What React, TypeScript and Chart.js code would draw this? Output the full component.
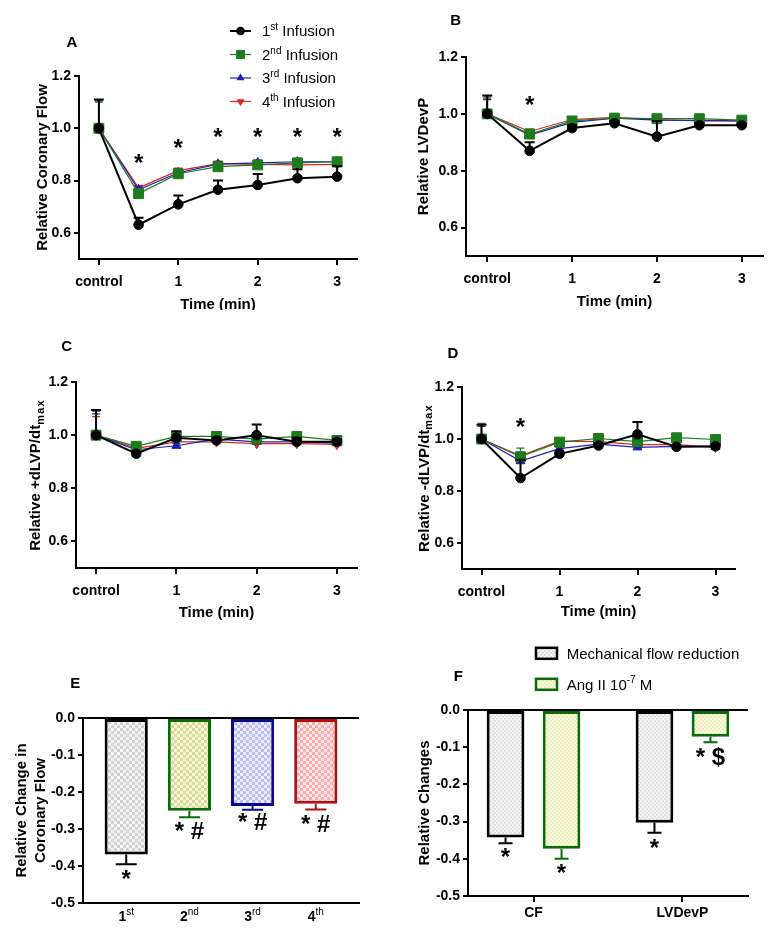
import React, { useEffect, useRef } from 'react';
import { Chart, registerables } from 'chart.js';

Chart.register(...registerables);

const FONT = '"Liberation Sans", Arial, Helvetica, sans-serif';

// ================= DATA =================
const timePoints = [0, 0.5, 1, 1.5, 2, 2.5, 3];
const timeTickValues = [0, 1, 2, 3];
const timeTickLabels = ['control', '1', '2', '3'];
const lineYTicks = [0.6, 0.8, 1.0, 1.2];
const infusionOrdinals = [['1', 'st'], ['2', 'nd'], ['3', 'rd'], ['4', 'th']];

// Panel A – relative coronary flow (values, upper error ends)
const cfInf1 = [1.0, 0.631, 0.709, 0.765, 0.783, 0.809, 0.815];
const cfInf1Err = [1.11, 0.658, 0.743, 0.8, 0.825, 0.843, 0.855];
const cfInf2 = [1.0, 0.75, 0.826, 0.853, 0.86, 0.868, 0.872];
const cfInf2Err = [1.1, 0.76, 0.835, 0.862, 0.87, 0.88, 0.88];
const cfInf3 = [1.0, 0.765, 0.83, 0.863, 0.868, 0.872, 0.872];
const cfInf3Err = [1.105, 0.775, 0.84, 0.872, 0.878, 0.882, 0.88];
const cfInf4 = [1.0, 0.772, 0.838, 0.865, 0.862, 0.86, 0.862];
const cfInf4Err = [1.108, 0.78, 0.845, 0.872, 0.87, 0.868, 0.87];
const starsAx = [0.5, 1, 1.5, 2, 2.5, 3];
const starsAy = [0.885, 0.943, 0.983, 0.983, 0.983, 0.983];

// Panel B – relative LVDevP
const lvInf1 = [1.0, 0.87, 0.95, 0.967, 0.92, 0.96, 0.96];
const lvInf1Err = [1.065, 0.9, 0.96, 0.975, 0.975, 0.968, 0.965];
const lvInf2 = [1.0, 0.929, 0.975, 0.985, 0.983, 0.983, 0.978];
const lvInf2Err = [1.055, 0.94, 0.985, 0.995, 0.99, 0.99, 0.985];
const lvInf3 = [1.0, 0.925, 0.97, 0.985, 0.978, 0.977, 0.975];
const lvInf3Err = [1.05, 0.935, 0.98, 0.993, 0.985, 0.983, 0.98];
const lvInf4 = [1.0, 0.938, 0.98, 0.988, 0.98, 0.975, 0.975];
const lvInf4Err = [1.06, 0.945, 0.985, 0.995, 0.985, 0.98, 0.98];
const starsBx = [0.5];
const starsBy = [1.048];

// Panel C – relative +dLVP/dt max
const pdInf1 = [1.0, 0.93, 0.99, 0.98, 1.0, 0.975, 0.975];
const pdInf1Err = [1.095, 0.935, 1.015, 0.99, 1.04, 0.99, 0.985];
const pdInf2 = [1.0, 0.958, 0.995, 0.995, 0.985, 0.995, 0.98];
const pdInf2Err = [1.09, 0.965, 1.0, 1.005, 0.995, 1.003, 0.985];
const pdInf3 = [1.0, 0.945, 0.96, 0.985, 0.975, 0.975, 0.97];
const pdInf3Err = [1.08, 0.95, 0.968, 0.99, 0.98, 0.98, 0.975];
const pdInf4 = [1.0, 0.95, 0.975, 0.975, 0.968, 0.968, 0.965];
const pdInf4Err = [1.07, 0.955, 0.98, 0.98, 0.972, 0.972, 0.97];

// Panel D – relative -dLVP/dt max
const ndInf1 = [1.0, 0.85, 0.943, 0.975, 1.018, 0.97, 0.972];
const ndInf1Err = [1.055, 0.92, 0.95, 0.985, 1.065, 0.975, 0.98];
const ndInf2 = [1.0, 0.932, 0.988, 1.002, 0.99, 1.005, 0.998];
const ndInf2Err = [1.06, 0.965, 0.995, 1.01, 0.998, 1.012, 1.015];
const ndInf3 = [1.0, 0.915, 0.963, 0.98, 0.968, 0.972, 0.97];
const ndInf3Err = [1.05, 0.925, 0.97, 0.985, 0.975, 0.978, 0.975];
const ndInf4 = [1.0, 0.935, 0.992, 0.99, 0.978, 0.978, 0.968];
const ndInf4Err = [1.048, 0.945, 1.0, 0.995, 0.985, 0.985, 0.975];
const starsDx = [0.5];
const starsDy = [1.064];

// Panel E – relative change in coronary flow per infusion
const infusionPos = [0, 1, 2, 3];
const cfChange = [-0.369, -0.251, -0.238, -0.232];
const cfChangeErr = [-0.395, -0.268, -0.248, -0.247];
const cfChangeNotes = ['*', '* #', '* #', '* #'];
const cfChangeNoteY = [-0.4225, -0.3035, -0.281, -0.285];
const barYTicks = [-0.5, -0.4, -0.3, -0.2, -0.1, 0];

// Panel F – mechanical vs Ang II
const fPos = [0, 1];
const fLabels = ['CF', 'LVDevP'];
const mechVals = [-0.343, -0.303];
const mechErr = [-0.358, -0.33];
const mechNotes = ['*', '*'];
const mechNoteY = [-0.383, -0.36];
const angVals = [-0.373, -0.072];
const angErr = [-0.4, -0.087];
const angNotes = ['*', '* $'];
const angNoteY = [-0.425, -0.125];

// ================= STYLES =================
const SERIES_STYLE = [
  { color: '#000000', marker: 'circle', radius: 4.8, rot: 0, lw: 2, cap: 10, ew: 2 },
  { color: '#1e7b1e', marker: 'rect', radius: 7, rot: 0, lw: 1.2, cap: 8, ew: 1.2 },
  { color: '#1f1fb4', marker: 'triangle', radius: 5.2, rot: 0, lw: 1.2, cap: 8, ew: 1.2 },
  { color: '#d62828', marker: 'triangle', radius: 5.2, rot: 180, lw: 1.2, cap: 8, ew: 1.2 },
];

const NOTE_FONT_SIZE = 24;

type Seg = { t: string; s?: 'sup' | 'sub' };

function fontStr(size: number, weight: string) {
  return `${weight} ${size}px ${FONT}`;
}

function drawRich(ctx: any, segs: Seg[], x: number, y: number, opt: any) {
  const size = opt.size;
  const weight = opt.weight || 'bold';
  const small = opt.small || Math.round(size * 0.7);
  const smallWeight = opt.smallWeight || weight;
  const parts = segs.map((sg) => {
    const f = sg.s ? fontStr(small, smallWeight) : fontStr(size, weight);
    ctx.font = f;
    const ls = sg.s === 'sub' && opt.subSpacing ? opt.subSpacing : 0;
    const w = ctx.measureText(sg.t).width + ls * sg.t.length;
    return { sg, f, w, ls };
  });
  const total = parts.reduce((a, p) => a + p.w, 0);
  let cx = opt.align === 'left' ? x : x - total / 2;
  const base = y + size * 0.358;
  ctx.fillStyle = opt.color || '#000';
  ctx.textAlign = 'left';
  ctx.textBaseline = 'alphabetic';
  for (const p of parts) {
    ctx.font = p.f;
    let by = base;
    if (p.sg.s === 'sup') by = base - size * 0.42;
    if (p.sg.s === 'sub') by = base + size * 0.25;
    if (p.ls) {
      let xx = cx;
      for (const ch of p.sg.t) {
        ctx.fillText(ch, xx, by);
        xx += ctx.measureText(ch).width + p.ls;
      }
    } else {
      ctx.fillText(p.sg.t, cx, by);
    }
    cx += p.w;
  }
}

function drawGlyphCentered(ctx: any, text: string, x: number, y: number, font: string) {
  ctx.font = font;
  ctx.fillStyle = '#000';
  ctx.textAlign = 'center';
  ctx.textBaseline = 'alphabetic';
  const m = ctx.measureText(text);
  const by = y + (m.actualBoundingBoxAscent - m.actualBoundingBoxDescent) / 2;
  ctx.fillText(text, x, by);
}

function drawMarker(ctx: any, st: any, x: number, y: number, scale: number) {
  const r = st.radius * scale;
  ctx.save();
  ctx.fillStyle = st.color;
  ctx.beginPath();
  if (st.marker === 'circle') {
    ctx.arc(x, y, r, 0, Math.PI * 2);
  } else if (st.marker === 'rect') {
    const s = Math.SQRT1_2 * r;
    ctx.rect(x - s, y - s, 2 * s, 2 * s);
  } else {
    let rad = (st.rot * Math.PI) / 180;
    ctx.moveTo(x + Math.sin(rad) * r, y - Math.cos(rad) * r);
    rad += (2 * Math.PI) / 3;
    ctx.lineTo(x + Math.sin(rad) * r, y - Math.cos(rad) * r);
    rad += (2 * Math.PI) / 3;
    ctx.lineTo(x + Math.sin(rad) * r, y - Math.cos(rad) * r);
    ctx.closePath();
  }
  ctx.fill();
  ctx.restore();
}

function checker(ctx: any, c1: string, c2: string, cell: number) {
  const cv = document.createElement('canvas');
  cv.width = cell * 2;
  cv.height = cell * 2;
  const g = cv.getContext('2d') as CanvasRenderingContext2D;
  g.fillStyle = c2;
  g.fillRect(0, 0, cell * 2, cell * 2);
  g.fillStyle = c1;
  g.fillRect(0, 0, cell, cell);
  g.fillRect(cell, cell, cell, cell);
  return ctx.createPattern(cv, 'repeat');
}

function fixY(width: number) {
  return (s: any) => {
    s.width = width;
    s.paddingTop = 0;
    s.paddingBottom = 0;
    s.paddingLeft = 0;
    s.paddingRight = 0;
  };
}
function fixX(height: number) {
  return (s: any) => {
    s.height = height;
    s.paddingTop = 0;
    s.paddingBottom = 0;
    s.paddingLeft = 0;
    s.paddingRight = 0;
  };
}

function decorPlugin(d: any) {
  return {
    id: 'decor',
    beforeDatasetDraw(chart: any, args: any) {
      const e = d.errors && d.errors[args.index];
      if (!e) return;
      const ctx = chart.ctx;
      const ys = chart.scales.y;
      ctx.save();
      ctx.lineWidth = e.width;
      args.meta.data.forEach((el: any, i: number) => {
        const v = e.vals[i];
        if (v == null) return;
        ctx.strokeStyle = Array.isArray(e.color) ? e.color[i] : e.color;
        const x = el.x;
        const y0 = el.y;
        const y1 = ys.getPixelForValue(v);
        ctx.beginPath();
        ctx.moveTo(x, y0);
        ctx.lineTo(x, y1);
        ctx.moveTo(x - e.cap / 2, y1);
        ctx.lineTo(x + e.cap / 2, y1);
        ctx.stroke();
      });
      ctx.restore();
    },
    afterDraw(chart: any) {
      const ctx = chart.ctx;
      const area = chart.chartArea;
      const xs = chart.scales.x;
      const ys = chart.scales.y;
      ctx.save();
      // panel letter
      drawRich(ctx, [{ t: d.letter }], d.letterX, d.letterY, { size: 15, weight: 'bold' });
      // y title(s)
      const cy = (area.top + area.bottom) / 2;
      d.yTitle.forEach((segs: Seg[], i: number) => {
        ctx.save();
        ctx.translate(d.yTitleX[i], cy);
        ctx.rotate(-Math.PI / 2);
        drawRich(ctx, segs, 0, 0, { size: 15, weight: 'bold', small: 11, subSpacing: 1.2 });
        ctx.restore();
      });
      // x title
      if (d.xTitle) {
        drawRich(ctx, [{ t: d.xTitle }], (area.left + area.right) / 2, area.bottom + d.xTitleDy, {
          size: 15,
          weight: 'bold',
        });
      }
      // rich x tick labels
      if (d.xRich) {
        d.xRich.values.forEach((v: number, i: number) => {
          drawRich(ctx, d.xRich.segs[i], xs.getPixelForValue(v), area.bottom + d.xRich.dy, {
            size: 14,
            weight: 'bold',
            small: 10,
            smallWeight: 'normal',
          });
        });
      }
      // stars at data positions
      if (d.stars) {
        d.stars.x.forEach((xv: number, i: number) => {
          drawGlyphCentered(
            ctx,
            '*',
            xs.getPixelForValue(xv),
            ys.getPixelForValue(d.stars.y[i]),
            fontStr(NOTE_FONT_SIZE, 'bold')
          );
        });
      }
      // notes under bars
      if (d.notes) {
        d.notes.forEach((n: any, di: number) => {
          if (!n) return;
          const meta = chart.getDatasetMeta(di);
          meta.data.forEach((el: any, i: number) => {
            drawGlyphCentered(ctx, n.text[i], el.x, ys.getPixelForValue(n.y[i]), fontStr(NOTE_FONT_SIZE, 'bold'));
          });
        });
      }
      if (d.legend) d.legend(ctx, chart);
      ctx.restore();
    },
  };
}

function baseOptions(box: any, area: any) {
  return {
    responsive: false,
    animation: false,
    devicePixelRatio: 1,
    events: [],
    layout: {
      padding: { left: 0, top: area.t - box.y, right: box.x + box.w - area.r, bottom: 0 },
    },
    plugins: { legend: { display: false }, tooltip: { enabled: false } },
  };
}

const tickFont = { size: 14, weight: 'bold', family: FONT };

function buildLine(canvas: HTMLCanvasElement, p: any) {
  const { box, area } = p;
  const yW = area.l - box.x;
  const xH = box.y + box.h - area.b;
  const datasets = p.series.map((vals: number[], i: number) => {
    const st = SERIES_STYLE[i];
    return {
      data: vals.map((v, j) => ({ x: timePoints[j], y: v })),
      borderColor: st.color,
      backgroundColor: st.color,
      borderWidth: st.lw,
      pointStyle: st.marker,
      pointRadius: st.radius,
      pointHoverRadius: st.radius,
      pointRotation: st.rot,
      pointBorderWidth: 1,
      pointBackgroundColor: st.color,
      pointBorderColor: st.color,
      tension: 0,
      fill: false,
    };
  });
  const errors = p.errs.map((vals: number[], i: number) => ({
    vals,
    color: SERIES_STYLE[i].color,
    width: SERIES_STYLE[i].ew,
    cap: SERIES_STYLE[i].cap,
  }));
  return new Chart(canvas, {
    type: 'line',
    data: { datasets },
    options: {
      ...baseOptions(box, area),
      scales: {
        x: {
          type: 'linear',
          min: -0.25,
          max: 3.25,
          afterBuildTicks: (s: any) => {
            s.ticks = timeTickValues.map((v) => ({ value: v }));
          },
          ticks: {
            callback: (v: any) => timeTickLabels[timeTickValues.indexOf(Number(v))] ?? '',
            font: tickFont,
            color: '#000',
            padding: 9,
            maxRotation: 0,
            autoSkip: false,
          },
          grid: { drawOnChartArea: false, color: '#000', lineWidth: 2, tickLength: 6 },
          border: { color: '#000', width: 2 },
          afterFit: fixX(xH),
        },
        y: {
          type: 'linear',
          min: 0.5,
          max: 1.2,
          afterBuildTicks: (s: any) => {
            s.ticks = lineYTicks.map((v) => ({ value: v }));
          },
          ticks: { callback: (v: any) => Number(v).toFixed(1), font: tickFont, color: '#000', padding: 3 },
          grid: { drawOnChartArea: false, color: '#000', lineWidth: 2, tickLength: 5 },
          border: { color: '#000', width: 2 },
          afterFit: fixY(yW),
        },
      },
    } as any,
    plugins: [
      decorPlugin({
        letter: p.letter,
        letterX: p.letterX,
        letterY: p.letterY,
        yTitle: p.yTitle,
        yTitleX: p.yTitleX,
        xTitle: 'Time (min)',
        xTitleDy: p.xTitleDy,
        errors,
        stars: p.stars,
        legend: p.legend,
      }) as any,
    ],
  });
}

function barYScale(yW: number) {
  return {
    type: 'linear',
    min: -0.5,
    max: 0,
    afterBuildTicks: (s: any) => {
      s.ticks = barYTicks.map((v) => ({ value: v }));
    },
    ticks: { callback: (v: any) => Number(v).toFixed(1), font: tickFont, color: '#000', padding: 3 },
    grid: {
      drawOnChartArea: true,
      color: (c: any) => (c.tick && Math.abs(c.tick.value) < 1e-9 ? '#000' : 'rgba(0,0,0,0)'),
      tickColor: '#000',
      lineWidth: 2,
      tickLength: 5,
    },
    border: { color: '#000', width: 2 },
    afterFit: fixY(yW),
  };
}

const LINE_LEGEND = (ctx: any) => {
  SERIES_STYLE.forEach((st, i) => {
    const y = 31 + i * 23.5;
    ctx.save();
    ctx.strokeStyle = st.color;
    ctx.lineWidth = st.lw;
    ctx.beginPath();
    ctx.moveTo(230, y);
    ctx.lineTo(251, y);
    ctx.stroke();
    ctx.restore();
    drawMarker(ctx, st, 240.5, y, 0.9);
    const o = infusionOrdinals[i];
    drawRich(ctx, [{ t: o[0] }, { t: o[1], s: 'sup' }, { t: ' Infusion' }], 262, y, {
      size: 15,
      weight: 'normal',
      small: 10,
      align: 'left',
    });
  });
};

const PANELS: any = {
  A: {
    box: { x: 0, y: 0, w: 390, h: 310 },
    area: { l: 79, t: 76, r: 357, b: 259 },
    series: [cfInf1, cfInf2, cfInf3, cfInf4],
    errs: [cfInf1Err, cfInf2Err, cfInf3Err, cfInf4Err],
    letter: 'A',
    letterX: 72,
    letterY: 42,
    yTitle: [[{ t: 'Relative Coronary Flow' }]],
    yTitleX: [41.7],
    xTitleDy: 45,
    stars: { x: starsAx, y: starsAy },
    legend: LINE_LEGEND,
  },
  B: {
    box: { x: 390, y: 0, w: 390, h: 310 },
    area: { l: 466, t: 57, r: 763, b: 256 },
    series: [lvInf1, lvInf2, lvInf3, lvInf4],
    errs: [lvInf1Err, lvInf2Err, lvInf3Err, lvInf4Err],
    letter: 'B',
    letterX: 65.7,
    letterY: 20,
    yTitle: [[{ t: 'Relative LVDevP' }]],
    yTitleX: [33],
    xTitleDy: 45,
    stars: { x: starsBx, y: starsBy },
  },
  C: {
    box: { x: 0, y: 310, w: 390, h: 310 },
    area: { l: 76, t: 382, r: 357, b: 568 },
    series: [pdInf1, pdInf2, pdInf3, pdInf4],
    errs: [pdInf1Err, pdInf2Err, pdInf3Err, pdInf4Err],
    letter: 'C',
    letterX: 66.7,
    letterY: 36,
    yTitle: [[{ t: 'Relative +dLVP/dt' }, { t: 'max', s: 'sub' }]],
    yTitleX: [35],
    xTitleDy: 44,
  },
  D: {
    box: { x: 390, y: 310, w: 390, h: 310 },
    area: { l: 462, t: 387, r: 735, b: 569 },
    series: [ndInf1, ndInf2, ndInf3, ndInf4],
    errs: [ndInf1Err, ndInf2Err, ndInf3Err, ndInf4Err],
    letter: 'D',
    letterX: 63,
    letterY: 42.7,
    yTitle: [[{ t: 'Relative -dLVP/dt' }, { t: 'max', s: 'sub' }]],
    yTitleX: [33.3],
    xTitleDy: 42,
    stars: { x: starsDx, y: starsDy },
  },
};

function buildE(canvas: HTMLCanvasElement) {
  const box = { x: 0, y: 620, w: 390, h: 309 };
  const area = { l: 83, t: 718, r: 359, b: 903 };
  const ctx = canvas.getContext('2d');
  const fills = [
    checker(ctx, '#d2d2d2', '#f4f4f4', 3),
    checker(ctx, '#dada92', '#f6f6de', 3),
    checker(ctx, '#bcbcf6', '#ededfd', 3),
    checker(ctx, '#fbacac', '#fde6e6', 3),
  ];
  const borders = ['#000000', '#0b6b0b', '#0a0a8c', '#b01010'];
  return new Chart(canvas, {
    type: 'bar',
    data: {
      datasets: [
        {
          data: cfChange.map((v, i) => ({ x: infusionPos[i], y: v })),
          backgroundColor: fills,
          borderColor: borders,
          borderWidth: 3,
          borderSkipped: false,
          categoryPercentage: 1,
          barPercentage: 0.684,
        },
      ],
    },
    options: {
      ...baseOptions(box, area),
      scales: {
        x: {
          type: 'linear',
          min: -0.684,
          max: 3.684,
          offset: false,
          afterBuildTicks: (s: any) => {
            s.ticks = infusionPos.map((v) => ({ value: v }));
          },
          ticks: { display: false },
          grid: { display: false, offset: false },
          border: { color: '#000', width: 2 },
          afterFit: fixX(box.y + box.h - area.b),
        },
        y: barYScale(area.l - box.x),
      },
    } as any,
    plugins: [
      decorPlugin({
        letter: 'E',
        letterX: 75.3,
        letterY: 62.7,
        yTitle: [[{ t: 'Relative Change in' }], [{ t: 'Coronary Flow' }]],
        yTitleX: [21, 40],
        errors: [{ vals: cfChangeErr, color: borders, width: 2, cap: 21 }],
        notes: [{ text: cfChangeNotes, y: cfChangeNoteY }],
        xRich: {
          values: infusionPos,
          segs: infusionOrdinals.map((o) => [{ t: o[0] }, { t: o[1], s: 'sup' }]),
          dy: 13,
        },
      }) as any,
    ],
  });
}

function buildF(canvas: HTMLCanvasElement) {
  const box = { x: 390, y: 620, w: 390, h: 309 };
  const area = { l: 468, t: 710, r: 748, b: 896 };
  const ctx = canvas.getContext('2d');
  const mechFill = checker(ctx, '#e0e0e0', '#f5f5f5', 2);
  const angFill = checker(ctx, '#ececb6', '#f9f9e4', 2);
  const mechBorder = '#000000';
  const angBorder = '#0b6b0b';
  const legend = (c: any) => {
    const rows = [
      { fill: mechFill, border: mechBorder, segs: [{ t: 'Mechanical flow reduction' }], y: 33.3 },
      { fill: angFill, border: angBorder, segs: [{ t: 'Ang II 10' }, { t: '-7', s: 'sup' }, { t: ' M' }], y: 64.3 },
    ];
    rows.forEach((r: any) => {
      c.save();
      c.fillStyle = r.fill;
      c.fillRect(146, r.y - 5.5, 21, 11);
      c.strokeStyle = r.border;
      c.lineWidth = 2.5;
      c.strokeRect(146, r.y - 5.5, 21, 11);
      c.restore();
      drawRich(c, r.segs, 176.7, r.y, { size: 15, weight: 'normal', small: 10, align: 'left' });
    });
  };
  return new Chart(canvas, {
    type: 'bar',
    data: {
      datasets: [
        {
          data: mechVals.map((v, i) => ({ x: fPos[i], y: v })),
          backgroundColor: mechFill,
          borderColor: mechBorder,
          borderWidth: 3,
          borderSkipped: false,
          categoryPercentage: 0.752,
          barPercentage: 0.673,
        },
        {
          data: angVals.map((v, i) => ({ x: fPos[i], y: v })),
          backgroundColor: angFill,
          borderColor: angBorder,
          borderWidth: 3,
          borderSkipped: false,
          categoryPercentage: 0.752,
          barPercentage: 0.673,
        },
      ],
    },
    options: {
      ...baseOptions(box, area),
      scales: {
        x: {
          type: 'linear',
          min: -0.44,
          max: 1.44,
          offset: false,
          afterBuildTicks: (s: any) => {
            s.ticks = fPos.map((v) => ({ value: v }));
          },
          ticks: {
            callback: (v: any) => fLabels[fPos.indexOf(Number(v))] ?? '',
            font: tickFont,
            color: '#000',
            padding: 3,
            maxRotation: 0,
            autoSkip: false,
          },
          grid: { drawOnChartArea: false, color: '#000', lineWidth: 2, tickLength: 6, offset: false },
          border: { color: '#000', width: 2 },
          afterFit: fixX(box.y + box.h - area.b),
        },
        y: barYScale(area.l - box.x),
      },
    } as any,
    plugins: [
      decorPlugin({
        letter: 'F',
        letterX: 68.3,
        letterY: 55.7,
        yTitle: [[{ t: 'Relative Changes' }]],
        yTitleX: [33.3],
        errors: [
          { vals: mechErr, color: mechBorder, width: 2, cap: 14 },
          { vals: angErr, color: angBorder, width: 2, cap: 14 },
        ],
        notes: [
          { text: mechNotes, y: mechNoteY },
          { text: angNotes, y: angNoteY },
        ],
        legend,
      }) as any,
    ],
  });
}

function Panel({ box, build }: { box: any; build: (c: HTMLCanvasElement) => Chart }) {
  const ref = useRef<HTMLCanvasElement>(null);
  useEffect(() => {
    const chart = build(ref.current as HTMLCanvasElement);
    return () => chart.destroy();
  }, []);
  return (
    <canvas
      ref={ref}
      width={box.w}
      height={box.h}
      style={{ position: 'absolute', left: box.x, top: box.y, width: box.w, height: box.h }}
    />
  );
}

export default function App() {
  return (
    <div style={{ position: 'absolute', left: 0, top: 0, width: 780, height: 929, background: '#fff', overflow: 'hidden' }}>
      {['A', 'B', 'C', 'D'].map((k) => (
        <Panel key={k} box={PANELS[k].box} build={(c) => buildLine(c, PANELS[k])} />
      ))}
      <Panel box={{ x: 0, y: 620, w: 390, h: 309 }} build={buildE} />
      <Panel box={{ x: 390, y: 620, w: 390, h: 309 }} build={buildF} />
    </div>
  );
}
